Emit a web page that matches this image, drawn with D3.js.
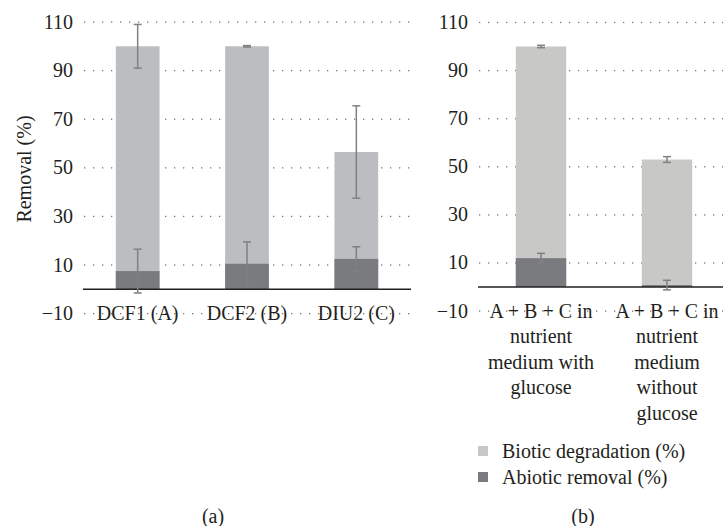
<!DOCTYPE html>
<html><head><meta charset="utf-8">
<script src="https://cdn.jsdelivr.net/npm/d3@7"></script>
<style>body{margin:0;background:#fff}svg{display:block}</style>
</head><body>
<svg id="c" width="723" height="526"></svg>
<script>
const yTicks = [-10, 10, 30, 50, 70, 90, 110];
const catsA = ["DCF1 (A)", "DCF2 (B)", "DIU2 (C)"];
const totalA = [100, 100, 56.5];
const totalErrA = [9, 0.3, 19];
const abioticA = [7.5, 10.5, 12.5];
const abioticErrA = [9, 9, 5];
const catsB = [["A + B + C in", "nutrient", "medium with", "glucose"], ["A + B + C in", "nutrient", "medium", "without", "glucose"]];
const totalB = [100, 53];
const totalErrB = [0.5, 1.2];
const abioticB = [12, 0.8];
const abioticErrB = [2, 2];
const legendLabels = ["Biotic degradation (%)", "Abiotic removal (%)"];
const panelLabels = ["(a)", "(b)"];

const FONT = "Liberation Serif";
const TXT = "#231f20";
const svg = d3.select("#c");
const dark = "#7a7b7f";

function txt(sel) {
  return sel.style("font-family", FONT).style("font-size", "20px").attr("fill", TXT);
}

function panel(o) {
  const ys = d3.scaleLinear().domain([0, 110]).range([o.y0, o.y0 - 110 * o.k]);
  const x = d3.scaleBand().domain(d3.range(o.cats.length)).range([o.x0, o.x1]).paddingInner(0.6).paddingOuter(0.3);
  const g = svg.append("g");
  // dotted gridlines
  yTicks.forEach(t => {
    g.selectAll(null).data(d3.range(o.x0 + 1, Math.min(o.x1, 723), 9)).enter().append("rect")
      .attr("x", d => d).attr("y", ys(t) - 0.6).attr("width", 1.3).attr("height", 1.3).attr("fill", "#777");
  });
  // tick labels
  yTicks.forEach(t => {
    txt(g.append("text")).attr("x", o.x0 - 10).attr("y", ys(t) + 6.5).attr("text-anchor", "end")
      .text(t < 0 ? "\u221210" : String(t));
  });
  // bars
  o.cats.forEach((c, i) => {
    g.append("rect").attr("x", x(i)).attr("width", x.bandwidth()).attr("y", ys(o.total[i]))
      .attr("height", ys(0) - ys(o.total[i])).attr("fill", o.light);
    g.append("rect").attr("x", x(i)).attr("width", x.bandwidth()).attr("y", ys(o.abiotic[i]))
      .attr("height", ys(0) - ys(o.abiotic[i])).attr("fill", dark);
  });
  // axis line
  g.append("line").attr("x1", o.x0).attr("x2", o.x1).attr("y1", ys(0)).attr("y2", ys(0)).attr("stroke", TXT).attr("stroke-width", 1.5);
  // error bars
  function err(cx, v, e) {
    const eg = g.append("g").attr("stroke", "#808080").attr("stroke-width", 1.5);
    eg.append("line").attr("x1", cx).attr("x2", cx).attr("y1", ys(v + e)).attr("y2", ys(v - e));
    eg.append("line").attr("x1", cx - 4).attr("x2", cx + 4).attr("y1", ys(v + e)).attr("y2", ys(v + e));
    eg.append("line").attr("x1", cx - 4).attr("x2", cx + 4).attr("y1", ys(v - e)).attr("y2", ys(v - e));
  }
  o.cats.forEach((c, i) => {
    const cx = x(i) + x.bandwidth() / 2;
    err(cx, o.total[i], o.totalErr[i]);
    err(cx, o.abiotic[i], o.abioticErr[i]);
  });
  // category labels
  o.cats.forEach((c, i) => {
    const cx = x(i) + x.bandwidth() / 2;
    const lines = Array.isArray(c) ? c : [c];
    lines.forEach((l, j) => {
      txt(g.append("text")).attr("text-anchor", "middle").attr("x", cx).attr("y", ys(-10) + 6.5 + j * 25.5).text(l);
    });
  });
}

panel({x0: 83, x1: 411, y0: 289.3, k: 2.43, cats: catsA, total: totalA, totalErr: totalErrA, abiotic: abioticA, abioticErr: abioticErrA, light: "#bcbdc1"});
panel({x0: 478, x1: 730, y0: 287, k: 2.405, cats: catsB, total: totalB, totalErr: totalErrB, abiotic: abioticB, abioticErr: abioticErrB, light: "#c8c8c7"});

// y axis title
txt(svg.append("text")).attr("transform", "translate(31,169) rotate(-90)").attr("text-anchor", "middle").text("Removal (%)");

// legend
const legColors = ["#c8c8c7", dark];
legendLabels.forEach((l, i) => {
  const ly = 451 + i * 26;
  svg.append("rect").attr("x", 478).attr("y", ly - 5).attr("width", 10).attr("height", 10).attr("fill", legColors[i]);
  txt(svg.append("text")).attr("x", 502).attr("y", ly + 7).text(l);
});

// panel labels
txt(svg.append("text")).attr("x", 213).attr("y", 523).attr("text-anchor", "middle").text(panelLabels[0]);
txt(svg.append("text")).attr("x", 583).attr("y", 523).attr("text-anchor", "middle").text(panelLabels[1]);
</script>
</body></html>
